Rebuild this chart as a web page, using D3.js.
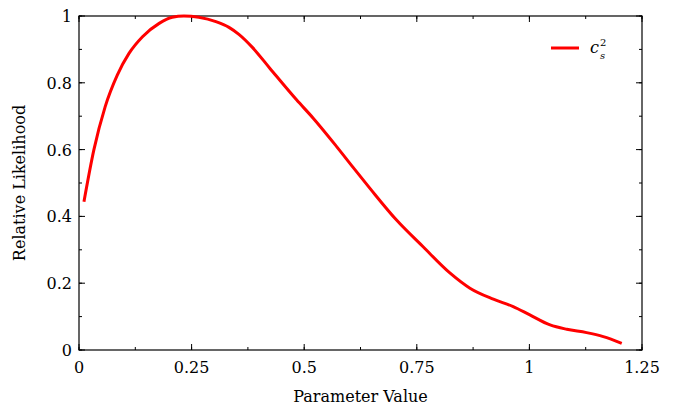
<!DOCTYPE html>
<html>
<head>
<meta charset="utf-8">
<script src="https://cdn.jsdelivr.net/npm/d3@7"></script>
<style>
  body { margin: 0; background: #fff; }
</style>
</head>
<body>
<div id="chart"></div>
<script>
// curve
var paramX = [0.011, 0.033, 0.058, 0.085, 0.111, 0.141, 0.178, 0.207, 0.233, 0.266,
              0.304, 0.333, 0.355, 0.385, 0.424, 0.483, 0.52, 0.572, 0.609, 0.646,
              0.705, 0.764, 0.824, 0.868, 0.92, 0.964, 1.001, 1.046, 1.083, 1.127,
              1.164, 1.205];
var likelihood = [0.444, 0.599, 0.728, 0.823, 0.888, 0.938, 0.978, 0.996, 1.0, 0.996,
                  0.983, 0.966, 0.945, 0.906, 0.843, 0.749, 0.694, 0.609, 0.546, 0.484,
                  0.389, 0.309, 0.23, 0.185, 0.152, 0.13, 0.105, 0.075, 0.062, 0.052,
                  0.04, 0.02];
var xTicks = [0, 0.25, 0.5, 0.75, 1, 1.25];
var xTickLabels = ["0", "0.25", "0.5", "0.75", "1", "1.25"];
var yTicks = [0, 0.2, 0.4, 0.6, 0.8, 1];
var yTickLabels = ["0", "0.2", "0.4", "0.6", "0.8", "1"];

var width = 676, height = 410;
var margin = {top: 16, right: 34, bottom: 60, left: 79};
var w = width - margin.left - margin.right;
var h = height - margin.top - margin.bottom;
var font = "'DejaVu Serif', 'Liberation Serif', 'Times New Roman', serif";

var svg = d3.select("#chart").append("svg")
    .attr("width", width)
    .attr("height", height)
    .attr("font-family", font);

var g = svg.append("g")
    .attr("transform", "translate(" + margin.left + "," + margin.top + ")");

var x = d3.scaleLinear().domain([0, 1.25]).range([0, w]);
var y = d3.scaleLinear().domain([0, 1]).range([h, 0]);

var fontSize = 16;

// minor + major ticks on all four sides, pointing inward
function drawTicks(axis, vals, len) {
    vals.forEach(function(v) {
        if (axis == "x") {
            g.append("line").attr("x1", x(v)).attr("x2", x(v)).attr("y1", h).attr("y2", h - len)
                .attr("stroke", "#000");
            g.append("line").attr("x1", x(v)).attr("x2", x(v)).attr("y1", 0).attr("y2", len)
                .attr("stroke", "#000");
        } else {
            g.append("line").attr("y1", y(v)).attr("y2", y(v)).attr("x1", 0).attr("x2", len)
                .attr("stroke", "#000");
            g.append("line").attr("y1", y(v)).attr("y2", y(v)).attr("x1", w).attr("x2", w - len)
                .attr("stroke", "#000");
        }
    });
}
drawTicks("x", d3.range(0, 1.26, 0.125), 3);
drawTicks("x", xTicks, 6);
drawTicks("y", d3.range(0, 1.01, 0.1), 3);
drawTicks("y", yTicks, 6);

g.selectAll(".xlab").data(xTicks).enter().append("text")
    .attr("x", function(d) { return x(d); })
    .attr("y", h + 23)
    .attr("text-anchor", "middle")
    .attr("font-size", fontSize)
    .text(function(d, i) { return xTickLabels[i]; });

g.selectAll(".ylab").data(yTicks).enter().append("text")
    .attr("x", -7)
    .attr("y", function(d) { return y(d) + 6; })
    .attr("text-anchor", "end")
    .attr("font-size", fontSize)
    .text(function(d, i) { return yTickLabels[i]; });

// frame
g.append("rect")
    .attr("x", 0).attr("y", 0)
    .attr("width", w).attr("height", h)
    .attr("fill", "none")
    .attr("stroke", "#000")
    .attr("stroke-width", 1.2);

var line = d3.line()
    .x(function(d) { return x(d[0]); })
    .y(function(d) { return y(d[1]); })
    .curve(d3.curveMonotoneX);

g.append("path")
    .datum(d3.zip(paramX, likelihood))
    .attr("d", line)
    .attr("fill", "none")
    .attr("stroke", "#ff0000")
    .attr("stroke-width", 3)
    .attr("stroke-linejoin", "round");

// legend
g.append("line")
    .attr("x1", 472).attr("x2", 500)
    .attr("y1", 32).attr("y2", 32)
    .attr("stroke", "#ff0000")
    .attr("stroke-width", 3);

g.append("text")
    .attr("x", 511).attr("y", 37)
    .attr("font-size", fontSize)
    .attr("font-style", "italic")
    .text("c");
g.append("text")
    .attr("x", 521).attr("y", 43)
    .attr("font-size", 10)
    .attr("font-style", "italic")
    .text("s");
g.append("text")
    .attr("x", 521).attr("y", 30)
    .attr("font-size", 10)
    .text("2");

// axis titles
svg.append("text")
    .attr("x", margin.left + w / 2)
    .attr("y", 402)
    .attr("text-anchor", "middle")
    .attr("font-size", fontSize)
    .text("Parameter Value");

svg.append("text")
    .attr("transform", "translate(25," + (margin.top + h / 2) + ") rotate(-90)")
    .attr("text-anchor", "middle")
    .attr("font-size", fontSize)
    .text("Relative Likelihood");
</script>
</body>
</html>
